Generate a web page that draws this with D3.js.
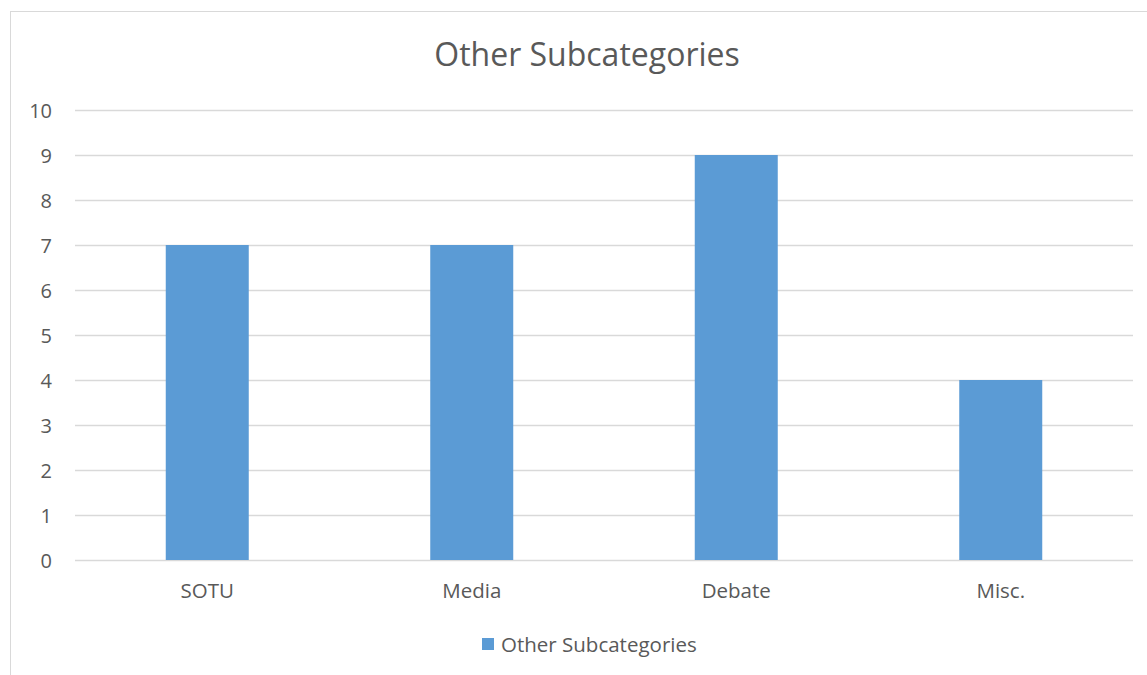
<!DOCTYPE html>
<html>
<head>
<meta charset="utf-8">
<script src="https://cdn.jsdelivr.net/npm/d3@7"></script>
<style>
  html, body { margin: 0; padding: 0; background: #fff; }
  svg { display: block; }
  text { font-family: "Open Sans", "Noto Sans", sans-serif; fill: #595959; }
</style>
</head>
<body>
<svg id="chart" width="1147" height="675"></svg>
<script>
const categories = ["SOTU", "Media", "Debate", "Misc."];
const values = [7, 7, 9, 4];
const yTicks = [0, 1, 2, 3, 4, 5, 6, 7, 8, 9, 10];
const seriesName = "Other Subcategories";
const chartTitle = "Other Subcategories";

const svg = d3.select("#chart");
const plot = { left: 75, right: 1133, top: 110, bottom: 560 };
const barColor = "#5B9BD5";

// chart border
svg.append("rect")
  .attr("x", 10.5).attr("y", 11.5)
  .attr("width", 1200).attr("height", 700)
  .attr("fill", "#fff").attr("stroke", "#d9d9d9").attr("stroke-width", 1);

const x = d3.scaleBand().domain(categories).range([plot.left, plot.right]).paddingInner(0.6862).paddingOuter(0.3431);
const y = d3.scaleLinear().domain([0, 10]).range([plot.bottom, plot.top]);

// gridlines
svg.append("g").selectAll("line").data(yTicks).join("line")
  .attr("x1", plot.left).attr("x2", plot.right)
  .attr("y1", d => Math.round(y(d)) + 0.5).attr("y2", d => Math.round(y(d)) + 0.5)
  .attr("stroke", "#d9d9d9").attr("stroke-width", 1.5);

// y axis labels
const yAxis = d3.axisLeft(y).tickValues(yTicks).tickSize(0).tickPadding(0).tickFormat(d3.format("d"));
const ga = svg.append("g").attr("transform", `translate(52,0)`).call(yAxis);
ga.select(".domain").remove();
ga.selectAll("text").attr("font-size", 20).attr("font-family", "Open Sans").attr("fill", "#595959").attr("dy", "0.35em");

// bars
svg.append("g").selectAll("rect").data(values).join("rect")
  .attr("x", (d, i) => x(categories[i]))
  .attr("width", x.bandwidth())
  .attr("y", d => y(d))
  .attr("height", d => y(0) - y(d))
  .attr("fill", barColor);

// x axis labels
const xAxis = d3.axisBottom(x).tickSize(0).tickPadding(0);
const gx = svg.append("g").attr("transform", `translate(0,${plot.bottom + 38})`).call(xAxis);
gx.select(".domain").remove();
gx.selectAll("text").attr("font-size", 20.5).attr("font-family", "Open Sans").attr("fill", "#595959").attr("dy", 0);

// title
svg.append("text").attr("x", 587).attr("y", 66)
  .attr("text-anchor", "middle").attr("font-size", 32).text(chartTitle);

// legend
svg.append("rect").attr("x", 482).attr("y", 638).attr("width", 12).attr("height", 12).attr("fill", barColor);
svg.append("text").attr("x", 501).attr("y", 652).attr("font-size", 20.5).text(seriesName);
</script>
</body>
</html>
